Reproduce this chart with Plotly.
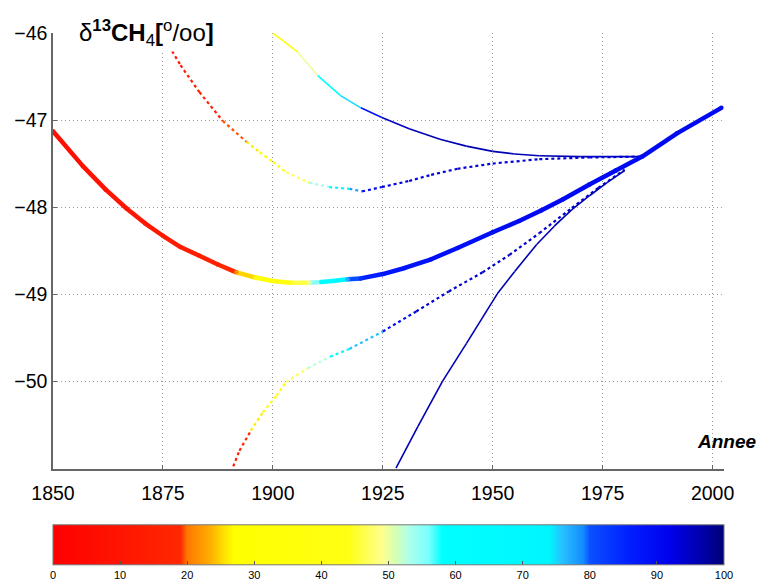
import plotly.graph_objects as go

# ---------------- data ----------------
# main curve (thick)
main_year = [1850, 1856.8, 1862, 1866.8, 1871, 1875, 1879, 1883.3, 1887.5, 1891.7, 1896, 1900, 1904,
             1908.3, 1911, 1913.6, 1917, 1920, 1925, 1930, 1936, 1942, 1950, 1956, 1961, 1966, 1972,
             1978, 1984, 1992, 2002]
main_val = [-47.13, -47.53, -47.80, -48.02, -48.19, -48.33, -48.46, -48.56, -48.66, -48.75, -48.81, -48.85,
            -48.87, -48.87, -48.86, -48.85, -48.83, -48.82, -48.77, -48.70, -48.60, -48.47, -48.29, -48.16,
            -48.04, -47.91, -47.74, -47.58, -47.42, -47.15, -46.86]
main_c = [6, 8, 9, 10, 11, 12, 13, 14, 16, 21, 29, 34, 42,
          50, 60, 66, 77, 84, 88, 88, 89, 89, 89, 90, 90, 90, 90, 90, 90, 90, 90]

# upper curve starting 1900 (thin solid)
top_year = [1900, 1905.7, 1910.2, 1915.4, 1920, 1924.8, 1931, 1938, 1944, 1950, 1955, 1960.6, 1970, 1984]
top_val = [-46.0, -46.22, -46.49, -46.72, -46.86, -46.97, -47.10, -47.22, -47.30, -47.36, -47.39, -47.41,
           -47.42, -47.42]
top_c = [36, 48, 52, 68, 82, 94, 96, 96, 96, 96, 96, 96, 96, 96]

# curve starting 1875 (dotted)
c2_year = [1875, 1879, 1883.3, 1888.6, 1894, 1897, 1900, 1903, 1908.3, 1912.8, 1917.4, 1920.3, 1924.8,
           1931, 1936, 1942, 1950, 1960.6, 1972, 1984]
c2_val = [-46.03, -46.37, -46.68, -47.01, -47.25, -47.37, -47.48, -47.60, -47.72, -47.77, -47.79, -47.82,
          -47.77, -47.70, -47.63, -47.56, -47.50, -47.45, -47.43, -47.42]
c2_c = [10, 12, 14, 17, 22, 30, 35, 44, 50, 58, 70, 86, 92, 93, 93, 93, 93, 93, 93, 93]

# curve starting 1891 at bottom (dotted)
c3_year = [1891, 1892.4, 1895, 1897.7, 1900.8, 1903, 1908, 1913, 1917.4, 1925, 1932.6, 1940, 1947.7,
           1953.8, 1960.6, 1968, 1974, 1980]
c3_val = [-50.98, -50.80, -50.57, -50.36, -50.17, -50.01, -49.85, -49.72, -49.63, -49.43, -49.20, -48.97,
          -48.75, -48.55, -48.30, -48.01, -47.78, -47.57]
c3_c = [12, 15, 22, 30, 35, 44, 50, 55, 66, 86, 93, 94, 94, 94, 94, 94, 94, 94]

# steep curve starting 1928 (thin solid)
c4_year = [1928, 1933, 1938.6, 1944, 1951, 1955, 1960, 1964, 1968, 1972, 1976, 1980]
c4_val = [-51.0, -50.52, -50.0, -49.57, -49.0, -48.74, -48.43, -48.22, -48.03, -47.87, -47.72, -47.58]
c4_c = [96, 96, 96, 96, 96, 96, 96, 96, 96, 96, 96, 96]

x_ticks = [1850, 1875, 1900, 1925, 1950, 1975, 2000]
y_ticks = [-50, -49, -48, -47, -46]
cbar_ticks = [0, 10, 20, 30, 40, 50, 60, 70, 80, 90, 100]

# colour scale resembling the reference bar
cscale = [
    [0.00, (255, 0, 0)], [0.19, (255, 40, 0)], [0.20, (255, 120, 0)], [0.235, (255, 175, 0)],
    [0.255, (255, 225, 0)], [0.27, (255, 255, 0)], [0.44, (255, 255, 20)], [0.49, (255, 255, 140)],
    [0.51, (215, 255, 180)], [0.53, (175, 255, 235)], [0.56, (120, 255, 255)], [0.58, (0, 255, 255)],
    [0.74, (0, 245, 255)], [0.76, (40, 190, 255)], [0.79, (20, 140, 255)], [0.80, (10, 80, 255)],
    [0.86, (0, 30, 255)], [0.92, (0, 0, 235)], [0.96, (0, 0, 180)], [1.00, (0, 0, 120)],
]
cscale_str = [[p, "rgb(%d,%d,%d)" % c] for p, c in cscale]


def col(v):
    t = max(0.0, min(1.0, v / 100.0))
    for (p0, c0), (p1, c1) in zip(cscale[:-1], cscale[1:]):
        if p0 <= t <= p1:
            f = 0 if p1 == p0 else (t - p0) / (p1 - p0)
            return "rgb(%d,%d,%d)" % tuple(round(a + (b - a) * f) for a, b in zip(c0, c1))
    return "rgb(0,0,120)"


fig = go.Figure()


def add_curve(xs, ys, cs, width, dash):
    for i in range(len(xs) - 1):
        fig.add_trace(go.Scatter(
            x=[xs[i], xs[i + 1]], y=[ys[i], ys[i + 1]], mode="lines",
            line=dict(color=col((cs[i] + cs[i + 1]) / 2), width=width, dash=dash),
            showlegend=False, hoverinfo="skip"))


add_curve(top_year, top_val, top_c, 1.6, "solid")
add_curve(c2_year, c2_val, c2_c, 2.2, "dot")
add_curve(c3_year, c3_val, c3_c, 2.2, "dot")
add_curve(c4_year, c4_val, c4_c, 1.6, "solid")
add_curve(main_year, main_val, main_c, 4.5, "solid")

# markers of the main curve, also carrying the colour bar
fig.add_trace(go.Scatter(
    x=main_year, y=main_val, mode="markers", showlegend=False, hoverinfo="skip",
    marker=dict(size=4.5, color=main_c, cmin=0, cmax=100, colorscale=cscale_str,
                showscale=True,
                colorbar=dict(orientation="h", x=0.5, xanchor="center", len=1.0, lenmode="fraction",
                              y=-0.268, yanchor="bottom", thickness=40, xpad=0, ypad=0,
                              outlinewidth=1, outlinecolor="#777777",
                              tickvals=cbar_ticks, ticks="inside", ticklen=4, tickcolor="#555555",
                              tickfont=dict(size=11, color="black", family="Liberation Sans")))))

axis_common = dict(showgrid=True, gridcolor="#9a9a9a", griddash="1px,3px", gridwidth=1,
                   showline=True, linecolor="#666666", linewidth=1.5, zeroline=False,
                   ticks="inside", ticklen=4, tickcolor="#666666",
                   tickfont=dict(size=19.5, color="black", family="Liberation Sans"))

# the page body adds an 8 px offset, so the figure is 8 px smaller and shifted accordingly
fig.update_layout(
    width=757, height=578,
    margin=dict(l=45, r=41, t=25, b=116.5, autoexpand=False),
    paper_bgcolor="white", plot_bgcolor="white",
    xaxis=dict(range=[1850, 2002.6], tickvals=x_ticks, ticklabelstandoff=6, **axis_common),
    yaxis=dict(range=[-51.01, -46], tickvals=y_ticks, ticklabelstandoff=0, **axis_common),
    font=dict(family="Liberation Sans", color="black"),
    annotations=[
        dict(xref="paper", yref="paper", x=0.036, y=1.0, xanchor="left", yanchor="middle",
             text="δ<sup><b>13</b></sup><b>CH</b><sub>4</sub><b>[</b><sup>o</sup>/oo<b>]</b>",
             showarrow=False, bgcolor="white", font=dict(size=24, color="black")),
        dict(xref="paper", yref="paper", x=1.052, y=0.062, xanchor="right", yanchor="middle",
             text="<b><i>Annee</i></b>", showarrow=False, font=dict(size=19, color="black")),
    ],
)

fig.write_html("out.html")
